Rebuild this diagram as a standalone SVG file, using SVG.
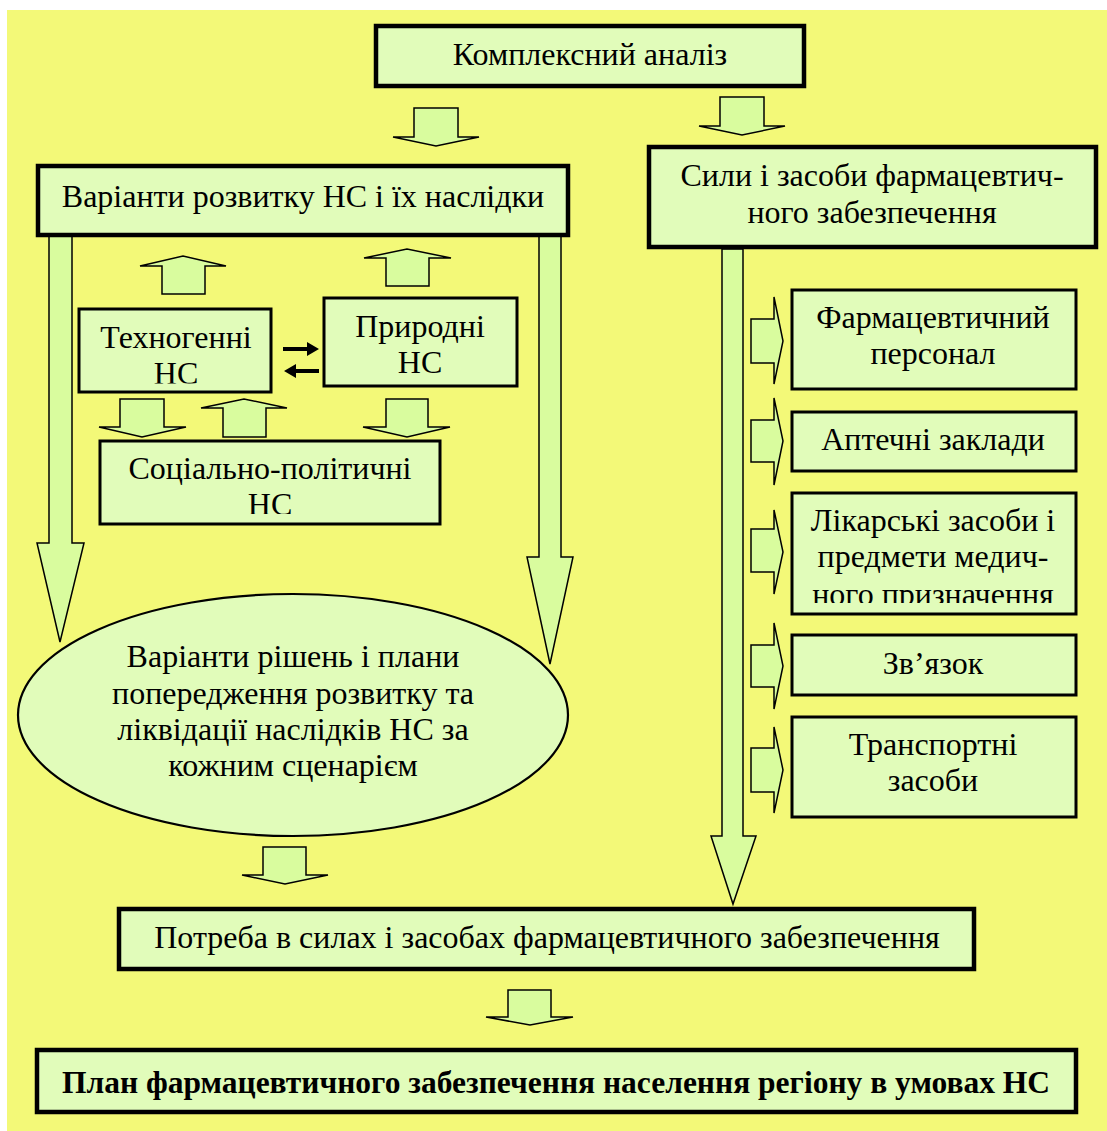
<svg xmlns="http://www.w3.org/2000/svg" width="1107" height="1131" viewBox="0 0 1107 1131">
<style>
.bg{fill:#F3F978}
.box{fill:#E1FCBA;stroke:#000;stroke-width:4.5}
.ibox{fill:#E1FCBA;stroke:#000;stroke-width:3}
.ell{fill:#E1FCBA;stroke:#000;stroke-width:2.2}
.arr{fill:#D9FC9E;stroke:#000;stroke-width:1.5;stroke-linejoin:miter}
.blk{fill:#000}
text{font-family:"Liberation Serif","Times New Roman",serif;font-size:32px;fill:#000;text-anchor:middle}
.b{font-weight:bold;font-size:31.5px}
</style>
<defs>
<clipPath id="cTech"><rect x="79" y="309" width="192" height="74.5"/></clipPath>
<clipPath id="cSoc"><rect x="100" y="441" width="340" height="73"/></clipPath>
<clipPath id="cLik"><rect x="792" y="493" width="284" height="110"/></clipPath>
</defs>
<rect class="bg" x="7" y="10" width="1100" height="1121"/>
<g id="connectors">
<path class="arr" d="M414 108H458V137H479L436 146L393 137H414Z"/>
<path class="arr" d="M720 97H764V126H785L742 135L699 126H720Z"/>
<path class="arr" d="M162 294V266H140L183 256L226 266H205V294Z"/>
<path class="arr" d="M386 286V258H364L407 249L451 258H429V286Z"/>
<path class="arr" d="M120 399H164V427H186L142 437L99 427H120Z"/>
<path class="arr" d="M223 437V408H201L244 399L287 408H266V437Z"/>
<path class="arr" d="M386 399H428V427H450L407 437L363 427H386Z"/>
<path class="arr" d="M49 236H72V543H84L60 642L37 543H49Z"/>
<path class="arr" d="M539 236H561V557H573L550 664L527 557H539Z"/>
<path class="arr" d="M722 249H743V836H756L733 904L711 836H722Z"/>
<path class="arr" d="M263 847H306V875H328L285 884L242 875H263Z"/>
<path class="arr" d="M508 990H551V1017H573L530 1025L486 1017H508Z"/>
<path class="arr" d="M751 319H774V297L783 341L774 384V363H751Z"/>
<path class="arr" d="M751 420H774V398L783 441L774 485V462H751Z"/>
<path class="arr" d="M751 529H774V510L783 552L774 594V572H751Z"/>
<path class="arr" d="M751 645H774V623L783 666L774 709V687H751Z"/>
<path class="arr" d="M751 748H774V727L783 770L774 813V792H751Z"/>
<path class="blk" d="M283 347H307V342L319 349L307 356V351H283Z"/>
<path class="blk" d="M319 369H296V364L284 371L296 378V373H319Z"/>
</g>
<g id="n-kompleks"><rect class="box" x="376" y="26" width="428" height="60"/><text x="590" y="65">Комплексний аналіз</text></g>
<g id="n-varianty"><rect class="box" x="38" y="166" width="530" height="69"/><text x="303" y="207">Варіанти розвитку НС і їх наслідки</text></g>
<g id="n-syly"><rect class="box" x="649" y="147" width="447" height="100"/><text x="872" y="186">Сили і засоби фармацевтич-</text><text x="872" y="223">ного забезпечення</text></g>
<g id="n-tekhno"><rect class="ibox" x="79" y="309" width="192" height="83"/><g clip-path="url(#cTech)"><text x="176" y="348">Техногенні</text><text x="176" y="384">НС</text></g></g>
<g id="n-pryrodni"><rect class="ibox" x="324" y="298" width="193" height="88"/><text x="420" y="337">Природні</text><text x="420" y="373">НС</text></g>
<g id="n-sotsial"><rect class="ibox" x="100" y="441" width="340" height="83"/><g clip-path="url(#cSoc)"><text x="270" y="479">Соціально-політичні</text><text x="270" y="515">НС</text></g></g>
<g id="n-rishennia"><ellipse class="ell" cx="293" cy="715" rx="275" ry="121"/><text x="293" y="667">Варіанти рішень і плани</text><text x="293" y="704">попередження розвитку та</text><text x="293" y="740">ліквідації наслідків НС за</text><text x="293" y="776">кожним сценарієм</text></g>
<g id="n-personal"><rect class="ibox" x="792" y="290" width="284" height="99"/><text x="933" y="328">Фармацевтичний</text><text x="933" y="364">персонал</text></g>
<g id="n-apteky"><rect class="ibox" x="792" y="412" width="284" height="59"/><text x="933" y="450">Аптечні заклади</text></g>
<g id="n-likarski"><rect class="ibox" x="792" y="493" width="284" height="121"/><g clip-path="url(#cLik)"><text x="933" y="531">Лікарські засоби і</text><text x="933" y="567">предмети медич-</text><text x="933" y="605">ного призначення</text></g></g>
<g id="n-zviazok"><rect class="ibox" x="792" y="635" width="284" height="60"/><text x="933" y="674">Зв’язок</text></g>
<g id="n-transport"><rect class="ibox" x="792" y="717" width="284" height="100"/><text x="933" y="755">Транспортні</text><text x="933" y="791">засоби</text></g>
<g id="n-potreba"><rect class="box" x="119" y="909" width="855" height="60"/><text x="547" y="948">Потреба в силах і засобах фармацевтичного забезпечення</text></g>
<g id="n-plan"><rect class="box" x="37" y="1050" width="1039" height="62"/><text class="b" x="556" y="1093">План фармацевтичного забезпечення населення регіону в умовах НС</text></g>
</svg>
